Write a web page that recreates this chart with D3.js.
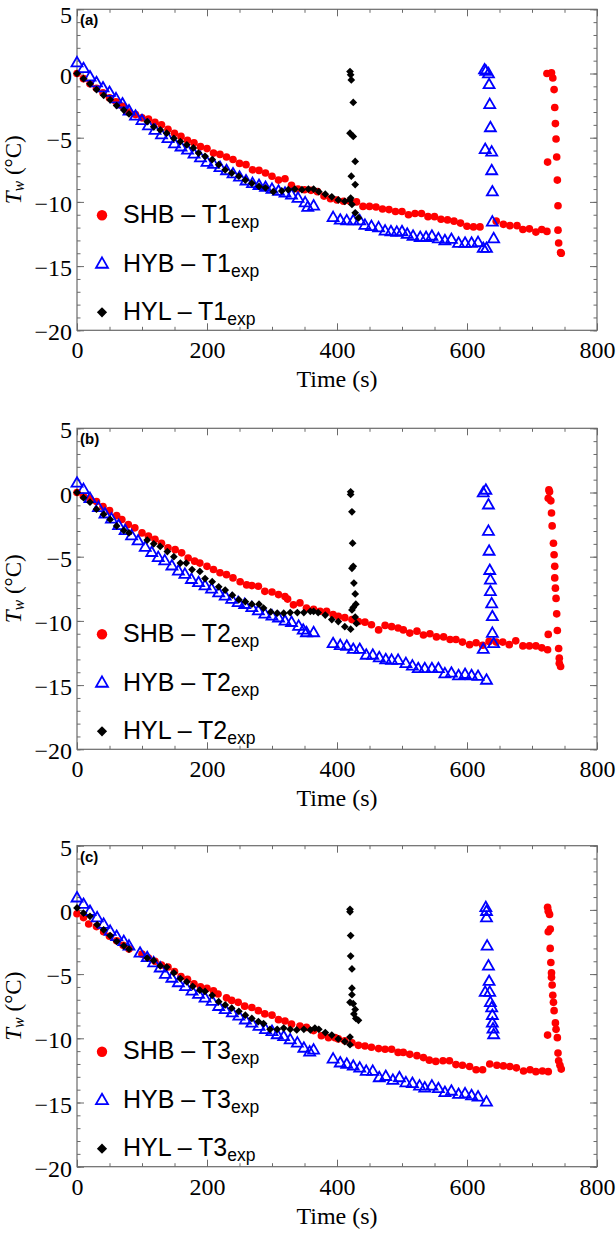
<!doctype html>
<html>
<head>
<meta charset="UTF-8">
<title>Tw vs time</title>
<script src="https://d3js.org/d3.v7.min.js"></script>
<style>
body{margin:0;background:#fff;}
</style>
</head>
<body>
<script>
// [time (s), Tw (°C)]
var shbA = [[0,0],[10,-0.4],[20,-0.8],[30,-1.15],[40,-1.5],[50,-1.9],[60,-2.2],[70,-2.55],[80,-3.0],[90,-3.2],[100,-3.45],[110,-3.55],[120,-3.8],[130,-4.0],[140,-4.35],[150,-4.65],[160,-4.9],[170,-5.2],[180,-5.4],[190,-5.7],[200,-5.85],[210,-6.2],[220,-6.3],[230,-6.5],[240,-6.7],[250,-7.0],[260,-7.1],[270,-7.5],[280,-7.55],[290,-7.75],[300,-8.0],[310,-8.3],[320,-8.2],[330,-8.7],[340,-9.0],[350,-9.05],[360,-9.1],[370,-9.2],[380,-9.55],[390,-9.75],[400,-9.85],[410,-9.95],[420,-9.95],[430,-10.0],[440,-10.35],[450,-10.35],[460,-10.4],[470,-10.55],[480,-10.6],[490,-10.75],[500,-10.75],[510,-11.0],[520,-10.9],[530,-10.9],[540,-11.15],[550,-11.15],[560,-11.35],[570,-11.4],[580,-11.5],[590,-11.65],[600,-11.9],[610,-11.95],[620,-11.95],[645,-11.5],[656,-11.75],[666,-11.85],[677,-11.85],[686,-12.15],[696,-12.1],[706,-12.35],[715,-12.15],[723,-12.3],
  [723,0.0],[730,0.05],[732,-0.35],[734,-1.25],[735,-2.65],[736,-3.9],[737,-5.1],[738,-6.5],[724,-6.9],[739,-8.3],[740,-10.3],[740,-12.2],[741,-13.2],[744,-13.95],[745,-14.0]];
var hybA = [[0,0.8],[10,0.35],[20,-0.3],[30,-0.75],[40,-1.15],[50,-1.5],[60,-2.0],[70,-2.4],[80,-2.95],[90,-3.35],[100,-3.7],[110,-4.1],[120,-4.45],[130,-4.8],[140,-5.1],[150,-5.5],[160,-5.75],[170,-6.0],[180,-6.3],[190,-6.6],[200,-6.95],[210,-7.1],[220,-7.35],[230,-7.6],[240,-7.85],[250,-8.1],[260,-8.4],[270,-8.6],[280,-8.75],[290,-8.9],[300,-9.05],[310,-9.2],[320,-9.35],[330,-9.5],[340,-9.75],[351,-10.1],[355,-10.45],[364,-10.35],
  [394,-11.25],[405,-11.45],[415,-11.5],[425,-11.5],[435,-11.5],[443,-11.85],[453,-11.95],[464,-12.05],[474,-12.3],[483,-12.35],[492,-12.4],[500,-12.35],[508,-12.55],[517,-12.7],[528,-12.8],[537,-12.8],[546,-12.7],[556,-12.9],[566,-13.05],[576,-12.95],[587,-13.25],[597,-13.25],[607,-13.25],[617,-13.2],[625,-13.65],[630,-13.65],[641,-12.9],
  [627,0.25],[629,0.15],[633,-0.05],[634,-0.9],[635,-2.45],[636,-4.25],[628,-5.95],[638,-6.15],[638,-7.6],[639,-9.25],[639,-11.6]];
var hylA = [[0,0],[10,-0.4],[20,-0.8],[30,-1.25],[41,-1.7],[51,-2.05],[61,-2.5],[72,-2.85],[80,-3.15],[108,-3.75],[118,-4.15],[128,-4.4],[138,-4.65],[149,-5.05],[159,-5.3],[169,-5.55],[179,-5.8],[187,-6.2],[197,-6.45],[208,-6.7],[218,-7.1],[228,-7.5],[238,-7.75],[249,-8.0],[259,-8.3],[269,-8.55],[280,-8.8],[290,-8.9],[302,-9.2],[315,-9.15],[325,-9.05],[335,-9.0],[346,-9.05],[356,-9.0],[364,-9.0],[372,-9.2],[382,-9.4],[392,-9.6],[402,-9.85],[412,-9.95],[420,-9.85],[423,-10.2],[428,-10.85],[433,-11.25],
  [420,0.15],[421,-0.1],[422,-0.5],[425,-2.25],[420,-4.65],[425,-4.9],[428,-6.85],[422,-8.0],[428,-8.65],[421,-9.7]];

var shbB = [[0,0],[10,-0.3],[20,-0.5],[30,-0.7],[40,-1.1],[50,-1.4],[61,-1.8],[69,-2.1],[79,-2.5],[89,-2.75],[100,-3.15],[110,-3.4],[120,-3.65],[130,-3.95],[140,-4.3],[151,-4.45],[161,-4.7],[171,-5.1],[181,-5.35],[189,-5.5],[200,-5.75],[210,-6.0],[220,-6.25],[230,-6.4],[240,-6.65],[251,-6.95],[261,-7.2],[269,-7.25],[279,-7.3],[289,-7.7],[300,-7.75],[310,-7.95],[320,-8.1],[324,-8.3],[333,-8.75],[343,-8.6],[353,-9.0],[364,-9.1],[374,-9.25],[384,-9.25],[394,-9.5],[402,-9.65],[412,-9.75],[423,-9.9],[433,-10.05],[443,-10.1],[453,-10.3],[464,-10.7],[474,-10.35],[484,-10.45],[494,-10.55],[502,-10.7],[512,-10.95],[523,-10.8],[533,-11.1],[543,-11.0],[553,-11.25],[564,-11.25],[574,-11.45],[583,-11.45],[593,-11.65],[604,-11.85],[614,-11.7],[624,-11.9],[634,-11.6],[645,-11.65],[655,-11.65],[665,-11.85],[675,-11.55],[686,-11.95],[696,-11.95],[706,-11.95],[715,-12.1],[724,-12.25],[725,-11.05],
  [726,0.2],[727,0.05],[725,-0.45],[729,-0.65],[730,-1.6],[731,-2.6],[733,-3.95],[734,-4.85],[735,-5.75],[735,-6.65],[736,-7.45],[737,-8.25],[738,-9.45],[739,-10.75],[741,-12.15],[742,-12.9],[742,-13.3],[744,-13.55]];
var hybB = [[0,0.7],[10,0.2],[20,-0.5],[33,-1.2],[43,-1.7],[53,-2.1],[64,-2.6],[74,-3.0],[84,-3.4],[94,-3.8],[105,-4.3],[115,-4.7],[125,-5.1],[135,-5.35],[146,-5.75],[156,-6.15],[166,-6.4],[176,-6.8],[187,-7.05],[197,-7.3],[207,-7.55],[218,-7.85],[228,-8.1],[238,-8.35],[248,-8.6],[258,-8.75],[269,-9.0],[279,-9.25],[289,-9.5],[300,-9.65],[310,-9.8],[320,-10.05],[330,-10.15],[341,-10.45],[348,-10.75],[353,-10.95],[364,-10.95],
  [394,-11.8],[405,-11.95],[415,-12.0],[425,-12.25],[435,-12.25],[445,-12.7],[455,-12.7],[465,-12.9],[475,-13.05],[484,-13.1],[494,-13.1],[506,-13.35],[516,-13.55],[525,-13.75],[535,-13.75],[546,-13.75],[556,-13.75],[566,-14.15],[576,-14.1],[587,-14.3],[597,-14.2],[607,-14.3],[617,-14.35],[630,-14.65],
  [629,0.15],[625,-0.05],[633,-1.0],[633,-3.05],[634,-4.6],[635,-6.1],[636,-6.85],[636,-7.75],[638,-8.7],[639,-9.7],[639,-11.0],[641,-11.8],[625,-12.25]];
var hylB = [[0,0],[10,-0.4],[20,-0.75],[30,-1.3],[41,-1.7],[51,-2.1],[61,-2.6],[72,-2.95],[80,-3.15],[108,-3.7],[118,-4.0],[128,-4.2],[139,-4.6],[149,-5.0],[159,-5.5],[168,-5.5],[177,-6.0],[189,-6.15],[197,-6.7],[208,-6.95],[218,-7.35],[228,-7.6],[239,-8.0],[249,-8.35],[259,-8.5],[269,-8.7],[280,-8.7],[287,-9.0],[298,-9.3],[308,-9.4],[318,-9.4],[328,-9.35],[339,-9.35],[349,-9.35],[359,-9.25],[364,-9.25],[371,-9.35],[382,-9.55],[392,-9.9],[402,-10.05],[412,-10.45],[421,-10.65],[430,-10.2],[428,-9.7],
  [421,0.05],[421,-0.15],[423,-1.5],[424,-3.95],[425,-5.75],[423,-5.9],[426,-7.05],[428,-7.9],[425,-8.95],[423,-9.15],[429,-8.7]];

var shbC = [[0,-0.3],[10,-0.6],[18,-1.1],[30,-1.3],[41,-1.7],[50,-2.05],[61,-2.4],[71,-2.75],[80,-3.05],[100,-3.45],[110,-3.75],[120,-4.0],[130,-4.3],[140,-4.45],[150,-4.8],[160,-5.2],[170,-5.4],[180,-5.75],[190,-6.0],[200,-6.1],[210,-6.3],[217,-6.55],[230,-6.85],[238,-7.05],[248,-7.2],[258,-7.5],[269,-7.6],[279,-7.85],[289,-8.1],[300,-8.2],[310,-8.55],[320,-8.65],[330,-8.9],[343,-9.05],[353,-9.15],[364,-9.4],[376,-9.8],[387,-9.95],[397,-9.95],[402,-10.05],[412,-10.2],[423,-10.35],[433,-10.55],[443,-10.6],[453,-10.7],[464,-10.8],[474,-10.85],[484,-10.85],[494,-11.1],[502,-11.1],[512,-11.25],[523,-11.35],[533,-11.5],[542,-11.7],[552,-11.8],[563,-11.75],[573,-11.75],[583,-12.05],[593,-12.1],[604,-12.2],[614,-12.45],[624,-12.45],[635,-12.0],[646,-12.1],[656,-12.15],[666,-12.2],[676,-12.3],[687,-12.55],[697,-12.45],[706,-12.6],[716,-12.55],[725,-12.6],[724,-9.75],
  [724,0.2],[725,-0.1],[727,-0.35],[728,-1.5],[725,-1.7],[728,-3.0],[729,-4.1],[730,-4.9],[730,-5.25],[731,-5.85],[732,-6.65],[733,-7.2],[734,-7.85],[736,-8.8],[737,-9.3],[739,-9.95],[740,-11.15],[741,-11.75],[743,-12.1],[745,-12.4]];
var hybC = [[0,0.9],[10,0.4],[20,-0.15],[31,-0.65],[41,-1.15],[51,-1.7],[61,-2.1],[72,-2.5],[80,-2.85],[97,-3.4],[108,-3.75],[118,-4.15],[128,-4.55],[136,-5.05],[146,-5.35],[156,-5.7],[167,-6.0],[177,-6.35],[187,-6.6],[197,-6.9],[208,-7.15],[218,-7.55],[228,-7.8],[239,-8.05],[249,-8.3],[259,-8.6],[269,-8.85],[280,-9.1],[290,-9.35],[300,-9.5],[308,-9.75],[318,-9.9],[328,-10.15],[339,-10.4],[349,-10.8],[358,-11.1],[364,-10.95],
  [394,-11.65],[405,-11.95],[415,-12.05],[425,-12.2],[435,-12.35],[445,-12.6],[455,-12.6],[465,-13.1],[475,-13.0],[486,-13.3],[496,-13.1],[506,-13.5],[516,-13.55],[527,-13.75],[535,-13.9],[546,-13.75],[556,-13.95],[566,-14.25],[576,-14.15],[587,-14.4],[597,-14.35],[607,-14.5],[617,-14.6],[630,-15.0],
  [629,0.15],[630,-0.15],[630,-0.65],[631,-2.85],[633,-4.4],[634,-5.6],[628,-6.45],[635,-6.45],[636,-7.25],[638,-7.65],[639,-8.25],[639,-8.85],[640,-9.3],[641,-9.75]];
var hylC = [[0,0.15],[10,-0.25],[20,-0.5],[31,-1.15],[41,-1.55],[51,-2.0],[61,-2.45],[72,-2.8],[80,-3.05],[108,-3.75],[118,-3.95],[128,-4.35],[138,-4.45],[149,-4.9],[159,-5.35],[169,-5.6],[178,-5.95],[189,-6.25],[197,-6.35],[208,-6.65],[218,-7.15],[228,-7.4],[238,-7.65],[249,-7.9],[259,-8.2],[269,-8.45],[279,-8.7],[287,-8.85],[297,-9.3],[308,-9.3],[318,-9.2],[328,-9.3],[338,-9.35],[349,-9.3],[359,-9.35],[366,-9.2],[372,-9.3],[382,-9.55],[392,-9.75],[402,-10.05],[412,-10.25],[420,-10.5],[420,-9.9],
  [420,0.05],[420,-0.15],[421,-2.0],[421,-3.6],[423,-4.6],[423,-6.1],[423,-6.6],[420,-7.2],[425,-7.3],[428,-7.75],[426,-8.1],[429,-8.45],[433,-8.6]];

var panelTags = ["(a)", "(b)", "(c)"];
var sensors = ["T1", "T2", "T3"];
var seriesNames = ["SHB", "HYB", "HYL"];
var xTicks = [0, 200, 400, 600, 800];
var yTicks = [-20, -15, -10, -5, 0, 5];

var W = 616, H = 1233;
var left = 77, right = 597, ph = 321;
var tops = [9.3, 428.3, 845.7];
var frameCol = "#6a6a6a";
var serif = "'Liberation Serif', 'Times New Roman', serif";
var sans = "'Liberation Sans', Arial, sans-serif";

var svg = d3.select("body").append("svg")
    .attr("width", W).attr("height", H)
    .style("display", "block");

var x = d3.scaleLinear().domain([0, 800]).range([left, right]);

var data = [[shbA, hybA, hylA], [shbB, hybB, hylB], [shbC, hybC, hylC]];

// marker drawing for each series
var sym = {
    SHB: function(sel, big){
        sel.attr("d", d3.symbol(d3.symbolCircle, big ? 85 : 46)())
           .attr("fill", "#ff0000").attr("stroke", "none");
    },
    HYB: function(sel, big){
        sel.attr("d", d3.symbol(d3.symbolTriangle, big ? 62 : 52)())
           .attr("fill", "none").attr("stroke", "#0000ff").attr("stroke-width", 1.8);
    },
    HYL: function(sel, big){
        sel.attr("d", d3.symbol(d3.symbolSquare, big ? 52 : 30)())
           .attr("fill", "#000").attr("stroke", "none");
    }
};

tops.forEach(function(top, pi){
    var y = d3.scaleLinear().domain([-20, 5]).range([top + ph, top]);
    var g = svg.append("g");

    // minor ticks
    g.append("g").attr("transform", "translate(0," + (top + ph) + ")")
        .call(d3.axisBottom(x).tickValues(d3.range(0, 801, 50)).tickSize(-3.5).tickFormat(""));
    g.append("g").attr("transform", "translate(0," + top + ")")
        .call(d3.axisTop(x).tickValues(d3.range(0, 801, 50)).tickSize(-3.5).tickFormat(""));
    g.append("g").attr("transform", "translate(" + left + ",0)")
        .call(d3.axisLeft(y).tickValues(d3.range(-20, 6, 1)).tickSize(-3.5).tickFormat(""));
    g.append("g").attr("transform", "translate(" + right + ",0)")
        .call(d3.axisRight(y).tickValues(d3.range(-20, 6, 1)).tickSize(-3.5).tickFormat(""));

    // major ticks + labels
    g.append("g").attr("class", "lab").attr("transform", "translate(0," + (top + ph) + ")")
        .call(d3.axisBottom(x).tickValues(xTicks).tickSize(-7).tickPadding(11));
    g.append("g").attr("transform", "translate(0," + top + ")")
        .call(d3.axisTop(x).tickValues(xTicks).tickSize(-7).tickFormat(""));
    g.append("g").attr("class", "lab ylab").attr("transform", "translate(" + left + ",0)")
        .call(d3.axisLeft(y).tickValues(yTicks).tickSize(-7).tickPadding(5));
    g.append("g").attr("transform", "translate(" + right + ",0)")
        .call(d3.axisRight(y).tickValues(yTicks).tickSize(-7).tickFormat(""));

    g.selectAll(".domain").remove();
    g.selectAll(".tick line").attr("stroke", frameCol).attr("stroke-width", 1);
    g.selectAll(".lab text").attr("font-family", serif).attr("font-size", 24).attr("fill", "#000");
    g.selectAll(".ylab text").attr("dy", function(d){
        // the top label of the first panel sits a little lower, at the page edge
        return (pi === 0 && d === 5) ? "0.56em" : "0.4em";
    });

    g.append("rect")
        .attr("x", left).attr("y", top)
        .attr("width", right - left).attr("height", ph)
        .attr("fill", "none").attr("stroke", frameCol).attr("stroke-width", 1.2);

    // points
    seriesNames.forEach(function(name, si){
        g.append("g").selectAll("path")
            .data(data[pi][si])
            .enter().append("path")
            .attr("transform", function(d){
                return "translate(" + x(d[0]) + "," + y(d[1]) + ")" + (name === "HYL" ? " rotate(45)" : "");
            })
            .call(sym[name], false);
    });

    // panel tag
    g.append("text")
        .attr("x", left + 3).attr("y", top + 16)
        .attr("font-family", sans).attr("font-weight", "bold").attr("font-size", 15)
        .text(panelTags[pi]);

    // legend
    var legY = [206, 255, 303];
    seriesNames.forEach(function(name, si){
        var ly = top + legY[si];
        g.append("path")
            .attr("transform", "translate(102," + ly + ")" + (name === "HYL" ? " rotate(45)" : ""))
            .call(sym[name], true);
        var t = g.append("text")
            .attr("x", 123).attr("y", ly + 7.5)
            .attr("font-family", sans).attr("font-size", 25).attr("fill", "#000");
        t.append("tspan").text(name + " \u2013 " + sensors[pi]);
        t.append("tspan").attr("font-size", 17.5).attr("dy", 5).text("exp");
    });

    // axis titles
    g.append("text")
        .attr("x", (left + right) / 2).attr("y", top + ph + 57)
        .attr("text-anchor", "middle")
        .attr("font-family", serif).attr("font-size", 24)
        .text("Time (s)");

    var yl = g.append("text")
        .attr("transform", "translate(21," + (top + ph / 2) + ") rotate(-90)")
        .attr("text-anchor", "middle")
        .attr("font-family", serif).attr("font-size", 23);
    yl.append("tspan").attr("font-style", "italic").text("T");
    yl.append("tspan").attr("font-style", "italic").attr("font-size", 16).attr("dy", 3).text("w");
    yl.append("tspan").attr("dy", -3).text(" (\u00b0C)");
});
</script>
</body>
</html>
